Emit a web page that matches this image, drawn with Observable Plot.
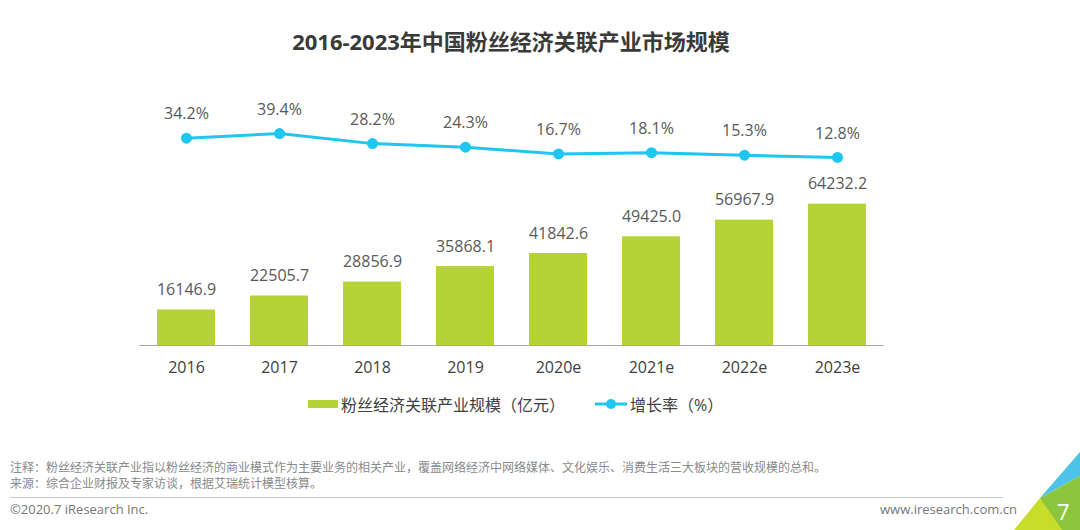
<!DOCTYPE html>
<html>
<head>
<meta charset="utf-8">
<script src="https://cdn.jsdelivr.net/npm/d3@7"></script>
<script src="https://cdn.jsdelivr.net/npm/@observablehq/plot@0.6"></script>
<style>
  html, body { margin:0; padding:0; background:#fff; }
  body { width:1080px; height:530px; position:relative; overflow:hidden;
         font-family:"Open Sans","Noto Sans CJK SC",sans-serif; }
  .abs { position:absolute; }
  #title { left:0; width:1022px; top:24px; text-align:center; font-size:22px; font-weight:bold; color:#3a3a3a; font-family:"Open Sans","Noto Sans CJK SC",sans-serif; }
  #legend { top:392px; left:308px; font-size:16px; color:#404040; display:flex; align-items:center; }
  .note { left:10px; font-size:12px; color:#8a8a8a; font-family:"Noto Sans CJK SC",sans-serif; }
  #hr { left:10px; top:497px; width:993px; height:1px; background:#c8c8c8; }
  .foot { font-size:13px; color:#777; top:500px; font-family:"Open Sans","Liberation Sans",sans-serif; }
  #chart, #line { left:0; top:0; }
</style>
</head>
<body>
<div id="title" class="abs">2016-2023年中国粉丝经济关联产业市场规模</div>
<div id="chart" class="abs"></div>
<div id="line" class="abs"></div>
<div id="legend" class="abs">
  <svg width="32" height="12"><rect x="0" y="2" width="30" height="8" fill="#b5d334"></rect></svg>
  <span style="margin-left:1px">粉丝经济关联产业规模（亿元）</span>
  <svg width="34" height="14" style="margin-left:30px"><line x1="0" y1="7" x2="32" y2="7" stroke="#1ec6f0" stroke-width="3"></line><circle cx="16" cy="7" r="5" fill="#1ec6f0"></circle></svg>
  <span style="margin-left:1px">增长率（%）</span>
</div>
<div class="abs note" style="top:458px">注释：粉丝经济关联产业指以粉丝经济的商业模式作为主要业务的相关产业，覆盖网络经济中网络媒体、文化娱乐、消费生活三大板块的营收规模的总和。</div>
<div class="abs note" style="top:474px">来源：综合企业财报及专家访谈，根据艾瑞统计模型核算。</div>
<div id="hr" class="abs"></div>
<div class="abs foot" style="left:10px">©2020.7 iResearch Inc.</div>
<div class="abs foot" style="left:880px">www.iresearch.com.cn</div>
<svg class="abs" style="left:1000px;top:440px" width="80" height="90">
  <polygon points="40,58 80,12 80,36" fill="#4dc3ea"></polygon>
  <polygon points="40,58 80,36 80,90 55,90" fill="#8cc63f"></polygon>
  <polygon points="14,90 40,58 62,90" fill="#c8dc2a"></polygon>
  <text x="57" y="80" fill="#fff" font-size="22" font-family="Open Sans, sans-serif">7</text>
</svg>
<script>
const years = ["2016","2017","2018","2019","2020e","2021e","2022e","2023e"];
const marketSize = [16146.9, 22505.7, 28856.9, 35868.1, 41842.6, 49425.0, 56967.9, 64232.2];
const growthRate = [34.2, 39.4, 28.2, 24.3, 16.7, 18.1, 15.3, 12.8];

const barData = years.map((y, i) => ({year: y, value: marketSize[i]}));
const lineData = years.map((y, i) => ({year: y, rate: growthRate[i]}));

const font = "'Open Sans','Noto Sans CJK SC',sans-serif";
const common = {
  width: 1080, height: 530,
  marginLeft: 139.5, marginRight: 196.5
};

const bars = Plot.plot({
  ...common,
  marginTop: 125, marginBottom: 185,
  x: {domain: years, paddingInner: 0.376, paddingOuter: 0.188, label: null, tickSize: 0, tickPadding: 16},
  y: {domain: [0, 100000], axis: null},
  style: {fontSize: "16px", fontFamily: font, color: "#404040", background: "transparent", overflow: "visible"},
  marks: [
    Plot.barY(barData, {x: "year", y: "value", fill: "#b5d334"}),
    Plot.ruleY([0], {stroke: "#a6a6a6", strokeWidth: 1.2}),
    Plot.text(barData, {x: "year", y: "value", text: d => d.value.toFixed(1), dy: -20, fill: "#595959", fontSize: 16})
  ]
});
document.getElementById("chart").appendChild(bars);

const line = Plot.plot({
  ...common,
  marginTop: 78.5, marginBottom: 361.5,
  x: {domain: years, paddingInner: 0.376, paddingOuter: 0.188, axis: null},
  y: {domain: [0, 100], axis: null},
  style: {fontSize: "16px", fontFamily: font, background: "transparent", overflow: "visible"},
  marks: [
    Plot.line(lineData, {x: "year", y: "rate", stroke: "#1ec6f0", strokeWidth: 3}),
    Plot.dot(lineData, {x: "year", y: "rate", fill: "#1ec6f0", r: 5.5}),
    Plot.text(lineData, {x: "year", y: "rate", text: d => d.rate.toFixed(1) + "%", dy: -24, fill: "#595959", fontSize: 16})
  ]
});
document.getElementById("line").appendChild(line);
</script>
</body>
</html>
